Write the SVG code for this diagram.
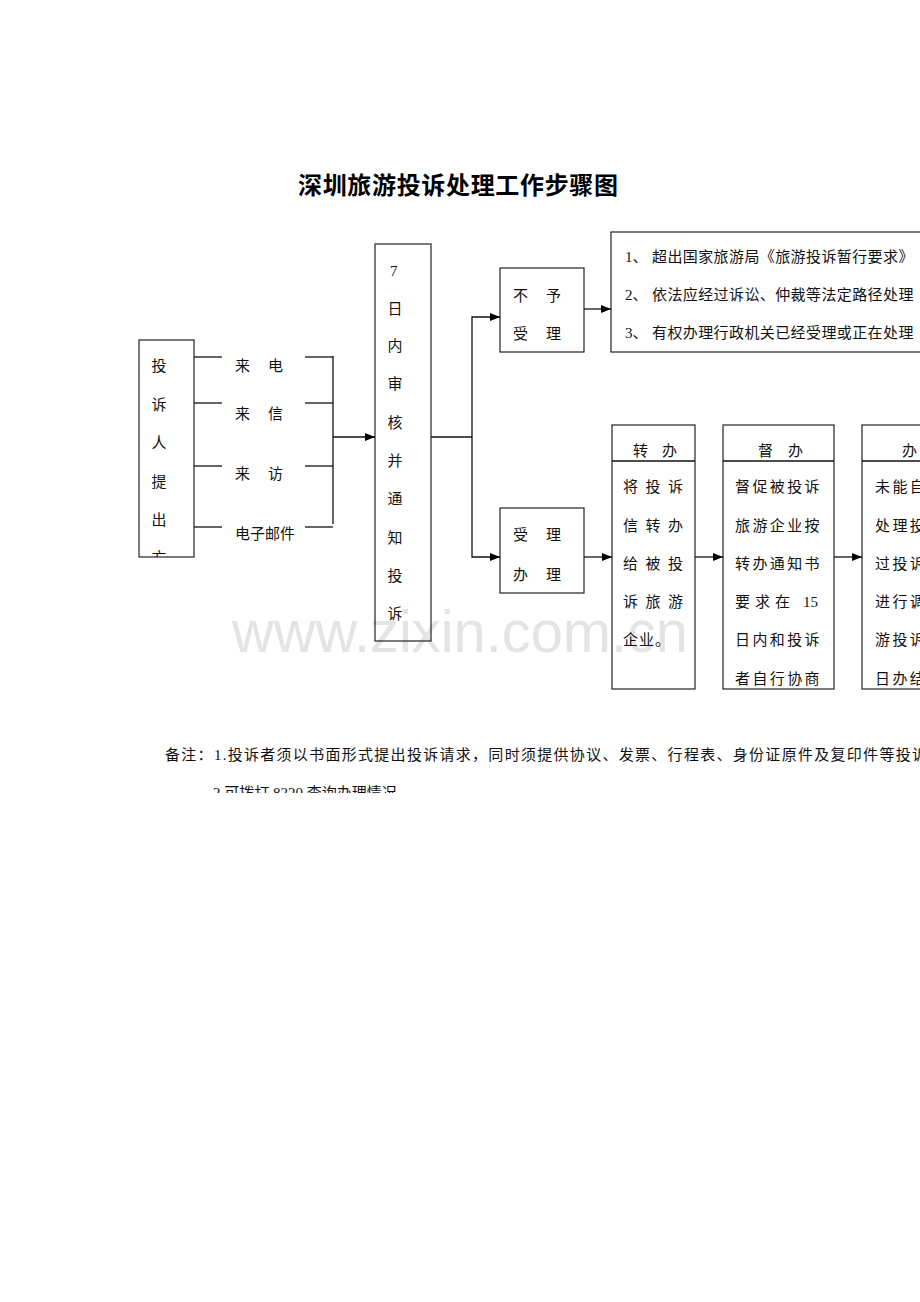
<svg xmlns="http://www.w3.org/2000/svg" width="920" height="1302" viewBox="0 0 920 1302">
<style>
.t{font-family:"Liberation Serif","Noto Sans CJK SC",serif;font-size:15px;fill:#111}
.title{font-family:"Noto Sans CJK SC",sans-serif;font-size:24px;font-weight:bold;fill:#000}
.box{fill:none;stroke:#222;stroke-width:1.2}
.ln{stroke:#111;stroke-width:1.3;fill:none}
.wm{font-family:"Liberation Sans",sans-serif;font-size:60px;fill:#e4e4e4}
</style>
<defs>
<marker id="ah" markerWidth="10" markerHeight="8" refX="10" refY="4" orient="auto" markerUnits="userSpaceOnUse">
<path d="M0,0 L10,4 L0,8 Z" fill="#000"/>
</marker>
<clipPath id="cl1"><rect x="139" y="340" width="55" height="217"/></clipPath>
<clipPath id="cl2"><rect x="0" y="0" width="920" height="793"/></clipPath>
</defs>
<rect width="920" height="1302" fill="#fff"/>

<text class="wm" x="232" y="652" textLength="456" lengthAdjust="spacingAndGlyphs">www.zixin.com.cn</text>

<text class="title" x="298" y="194" textLength="320">深圳旅游投诉处理工作步骤图</text>

<g id="complainant">
<rect class="box" x="139" y="340" width="55" height="217"/>
<g clip-path="url(#cl1)">
<text class="t" x="159" y="371" text-anchor="middle">投</text>
<text class="t" x="159" y="410" text-anchor="middle">诉</text>
<text class="t" x="159" y="448" text-anchor="middle">人</text>
<text class="t" x="159" y="487" text-anchor="middle">提</text>
<text class="t" x="159" y="525" text-anchor="middle">出</text>
<text class="t" x="159" y="563" text-anchor="middle">方</text>
</g>
</g>

<g id="channels">
<text class="t" x="235" y="371">来</text><text class="t" x="268" y="371">电</text>
<text class="t" x="235" y="419">来</text><text class="t" x="268" y="419">信</text>
<text class="t" x="235" y="479">来</text><text class="t" x="268" y="479">访</text>
<text class="t" x="235" y="539">电子邮件</text>
</g>

<g id="review">
<rect class="box" x="375" y="244" width="56" height="397"/>
<text class="t" x="390" y="276">7</text>
<text class="t" x="395" y="314" text-anchor="middle">日</text>
<text class="t" x="395" y="351" text-anchor="middle">内</text>
<text class="t" x="395" y="389" text-anchor="middle">审</text>
<text class="t" x="395" y="428" text-anchor="middle">核</text>
<text class="t" x="395" y="466" text-anchor="middle">并</text>
<text class="t" x="395" y="504" text-anchor="middle">通</text>
<text class="t" x="395" y="543" text-anchor="middle">知</text>
<text class="t" x="395" y="581" text-anchor="middle">投</text>
<text class="t" x="395" y="619" text-anchor="middle">诉</text>
</g>

<g id="reject">
<rect class="box" x="500" y="268" width="84" height="84"/>
<text class="t" x="513" y="301">不</text><text class="t" x="546" y="301">予</text>
<text class="t" x="513" y="339">受</text><text class="t" x="546" y="339">理</text>
</g>

<g id="reasons">
<rect class="box" x="611" y="232" width="330" height="120"/>
<text class="t" x="625" y="262">1、</text><text class="t" x="652" y="262" letter-spacing="0.4">超出国家旅游局《旅游投诉暂行要求》</text>
<text class="t" x="625" y="300">2、</text><text class="t" x="652" y="300" letter-spacing="0.4">依法应经过诉讼、仲裁等法定路径处理</text>
<text class="t" x="625" y="338">3、</text><text class="t" x="652" y="338" letter-spacing="0.4">有权办理行政机关已经受理或正在处理</text>
</g>

<g id="accept">
<rect class="box" x="500" y="508" width="84" height="85"/>
<text class="t" x="513" y="540">受</text><text class="t" x="546" y="540">理</text>
<text class="t" x="513" y="580">办</text><text class="t" x="546" y="580">理</text>
</g>

<g id="transfer">
<rect class="box" x="612" y="425" width="83" height="264"/>
<line class="ln" x1="612" y1="461" x2="695" y2="461"/>
<text class="t" x="633" y="456">转</text><text class="t" x="662" y="456">办</text>
<text class="t" x="623" y="492" letter-spacing="7.5">将投诉</text>
<text class="t" x="623" y="531" letter-spacing="7.5">信转办</text>
<text class="t" x="623" y="569" letter-spacing="7.5">给被投</text>
<text class="t" x="623" y="607" letter-spacing="7.5">诉旅游</text>
<text class="t" x="623" y="645" letter-spacing="1">企业。</text>
</g>

<g id="supervise">
<rect class="box" x="723" y="425" width="111" height="264"/>
<line class="ln" x1="723" y1="461" x2="834" y2="461"/>
<text class="t" x="758" y="456">督</text><text class="t" x="788" y="456">办</text>
<text class="t" x="735" y="492" letter-spacing="2.4">督促被投诉</text>
<text class="t" x="735" y="531" letter-spacing="2.4">旅游企业按</text>
<text class="t" x="735" y="569" letter-spacing="2.4">转办通知书</text>
<text class="t" x="735" y="607">要</text><text class="t" x="755" y="607">求</text><text class="t" x="775" y="607">在</text><text class="t" x="803" y="607">15</text>
<text class="t" x="735" y="645" letter-spacing="2.4">日内和投诉</text>
<text class="t" x="735" y="684" letter-spacing="2.4">者自行协商</text>
</g>

<g id="conclude">
<rect class="box" x="862" y="425" width="120" height="264"/>
<line class="ln" x1="862" y1="461" x2="982" y2="461"/>
<text class="t" x="902" y="456">办</text>
<text class="t" x="875" y="492" letter-spacing="2.4">未能自</text>
<text class="t" x="875" y="531" letter-spacing="2.4">处理投</text>
<text class="t" x="875" y="569" letter-spacing="2.4">过投诉</text>
<text class="t" x="875" y="607" letter-spacing="2.4">进行调</text>
<text class="t" x="875" y="645" letter-spacing="2.4">游投诉</text>
<text class="t" x="875" y="684" letter-spacing="2.4">日办结</text>
</g>

<g id="connectors">
<line class="ln" x1="194" y1="357" x2="222" y2="357"/>
<line class="ln" x1="194" y1="403" x2="222" y2="403"/>
<line class="ln" x1="194" y1="466" x2="222" y2="466"/>
<line class="ln" x1="194" y1="527" x2="222" y2="527"/>
<line class="ln" x1="305" y1="357" x2="333" y2="357"/>
<line class="ln" x1="305" y1="403" x2="333" y2="403"/>
<line class="ln" x1="305" y1="466" x2="333" y2="466"/>
<line class="ln" x1="305" y1="527" x2="333" y2="527"/>
<line class="ln" x1="333" y1="356" x2="333" y2="524"/>
<line class="ln" x1="333" y1="437" x2="375" y2="437" marker-end="url(#ah)"/>
<line class="ln" x1="431" y1="437" x2="472" y2="437"/>
<path class="ln" d="M472,437 V317 H500" marker-end="url(#ah)"/>
<path class="ln" d="M472,437 V557 H500" marker-end="url(#ah)"/>
<line class="ln" x1="584" y1="309" x2="611" y2="309" marker-end="url(#ah)"/>
<line class="ln" x1="584" y1="557" x2="612" y2="557" marker-end="url(#ah)"/>
<line class="ln" x1="695" y1="557" x2="723" y2="557" marker-end="url(#ah)"/>
<line class="ln" x1="834" y1="557" x2="862" y2="557" marker-end="url(#ah)"/>
</g>

<g id="notes">
<text class="t" x="165" y="760" font-size="15.5" textLength="762" lengthAdjust="spacing">备注：1.投诉者须以书面形式提出投诉请求，同时须提供协议、发票、行程表、身份证原件及复印件等投诉</text>
<g clip-path="url(#cl2)">
<text class="t" x="213" y="798">2.可拨打 8220 查询办理情况.</text>
</g>
</g>
</svg>
